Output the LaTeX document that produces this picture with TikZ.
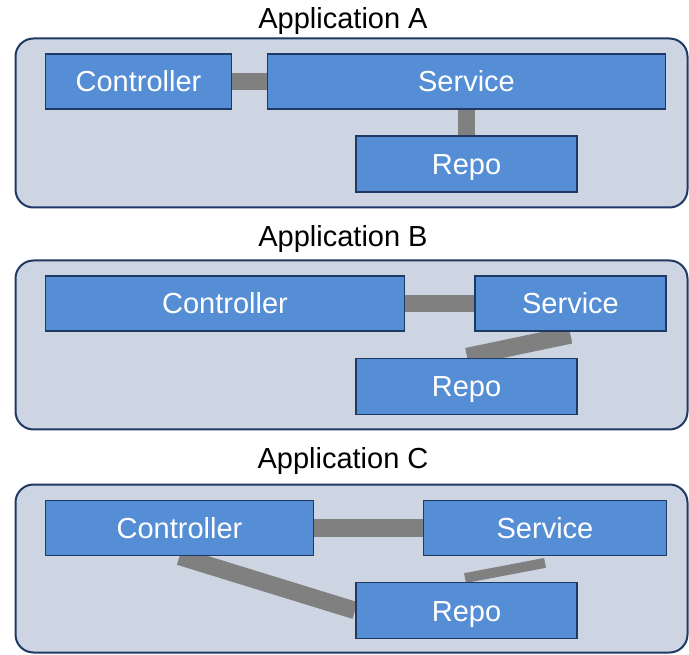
\documentclass[tikz,border=0pt]{standalone}
\usepackage{fontspec}
\setmainfont{Liberation Sans}
\usetikzlibrary{calc}
\definecolor{boxblue}{HTML}{558ED5}
\definecolor{navy}{HTML}{1F3864}
\definecolor{appfill}{HTML}{CDD5E2}
\definecolor{conngray}{HTML}{808080}
\pgfdeclarelayer{bgzero}
\pgfdeclarelayer{bgone}
\pgfsetlayers{bgzero,bgone,main}
\begin{document}
\begin{tikzpicture}[x=1pt,y=-1pt,
  app/.style={draw=navy, line width=2pt, fill=appfill, rounded corners=18pt, inner sep=0pt},
  comp/.style={draw=navy, line width=1.8pt, fill=boxblue, text=white, inner sep=0pt,
    text height=21pt, text depth=0pt, minimum height=55pt, font=\fontsize{29}{34}\selectfont},
  conn/.style={draw=conngray, line width=17.5pt},
  connthin/.style={draw=conngray, line width=10pt},
  apptitle/.style={font=\fontsize{29}{34}\selectfont, anchor=base, inner sep=0pt}]
\useasboundingbox (0,0) rectangle (689,655);

% titles
\node[apptitle] (ta) at (343,28.5) {Application A};
\node[apptitle] (tb) at (343,246.5) {Application B};
\node[apptitle] (tc) at (343,468.5) {Application C};

% Application A
\node[comp, minimum width=186pt] (ca) at (138.5,81.5) {Controller};
\node[comp, minimum width=398pt] (sa) at (466.5,81.5) {Service};
\node[comp, minimum width=221pt, minimum height=56pt] (ra) at (466.5,164) {Repo};

% Application B
\node[comp, minimum width=359pt] (cb) at (225,303.5) {Controller};
\node[comp, minimum width=191pt] (sb) at (570.5,303.5) {Service};
\node[comp, minimum width=221pt, minimum height=56pt] (rb) at (466.5,386.5) {Repo};

% Application C
\node[comp, minimum width=268pt] (cc) at (179.5,528) {Controller};
\node[comp, minimum width=243pt] (sc) at (545,528) {Service};
\node[comp, minimum width=221pt, minimum height=56pt] (rc) at (466.5,610.5) {Repo};

\begin{pgfonlayer}{bgzero}
  \node[app, minimum width=672pt, minimum height=169pt] (appa) at (351.5,123) {};
  \node[app, minimum width=672pt, minimum height=169pt] (appb) at (351.5,345) {};
  \node[app, minimum width=672pt, minimum height=168pt] (appc) at (351.5,568.5) {};
\end{pgfonlayer}

\begin{pgfonlayer}{bgone}
  \draw[conn] (ca.east) -- (sa.west);
  \draw[conn] (sa.south) -- (ra.north);
  \draw[conn] (cb.east) -- (sb.west);
  \draw[conn] ($(rb.north)+(0.5,-1)$) -- ($(sb.south)+(0,3)$);
  \draw[conn] (cc.east) -- (sc.west);
  \draw[conn] (cc.south) -- (rc.west);
  \draw[connthin] ($(rc.north)+(-1.5,-3.5)$) -- ($(sc.south)+(0,6.5)$);
\end{pgfonlayer}
\end{tikzpicture}
\end{document}
